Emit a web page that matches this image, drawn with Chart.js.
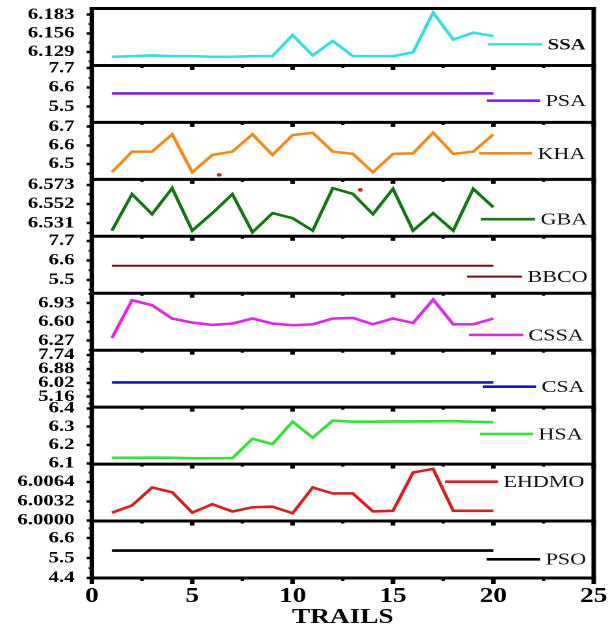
<!DOCTYPE html>
<html>
<head>
<meta charset="utf-8">
<script src="https://cdn.jsdelivr.net/npm/chart.js@4.4.1/dist/chart.umd.min.js"></script>
<style>
  html, body { margin: 0; padding: 0; background: #fff; }
  canvas { display: block; }
</style>
</head>
<body>
<!-- drawn narrow and shown wide: the reference figure is stretched sideways -->
<canvas id="chart" width="468" height="634" style="width:608px;height:634px"></canvas>
<script>
// trails on the x axis
const trails = [1, 2, 3, 4, 5, 6, 7, 8, 9, 10, 11, 12, 13, 14, 15, 16, 17, 18, 19, 20];
const xTicks = [0, 5, 10, 15, 20, 25];

// best values per trail, one array per algorithm
const ssa = [6.122, 6.123, 6.124, 6.123, 6.123, 6.122, 6.122, 6.123, 6.123, 6.1535, 6.124, 6.145, 6.123, 6.123, 6.123, 6.1286, 6.186, 6.147, 6.157, 6.152];
const psa = [6.26, 6.26, 6.26, 6.26, 6.26, 6.26, 6.26, 6.26, 6.26, 6.26, 6.26, 6.26, 6.26, 6.26, 6.26, 6.26, 6.26, 6.26, 6.26, 6.26];
const kha = [6.455, 6.566, 6.566, 6.659, 6.455, 6.548, 6.566, 6.659, 6.548, 6.655, 6.667, 6.566, 6.554, 6.455, 6.554, 6.557, 6.668, 6.554, 6.566, 6.659];
const gba = [6.5229, 6.5628, 6.5409, 6.5694, 6.5229, 6.542, 6.5628, 6.5211, 6.542, 6.5365, 6.5229, 6.5694, 6.5631, 6.5409, 6.5686, 6.5229, 6.542, 6.5229, 6.5686, 6.5485];
const bbco = [6.30, 6.30, 6.30, 6.30, 6.30, 6.30, 6.30, 6.30, 6.30, 6.30, 6.30, 6.30, 6.30, 6.30, 6.30, 6.30, 6.30, 6.30, 6.30, 6.30];
const cssa = [6.318, 6.983, 6.895, 6.66, 6.589, 6.547, 6.572, 6.66, 6.572, 6.542, 6.559, 6.66, 6.67, 6.559, 6.66, 6.582, 6.995, 6.559, 6.559, 6.66];
const csa = [6.04, 6.04, 6.04, 6.04, 6.04, 6.04, 6.04, 6.04, 6.04, 6.04, 6.04, 6.04, 6.04, 6.04, 6.04, 6.04, 6.04, 6.04, 6.04, 6.04];
const hsa = [6.130, 6.130, 6.131, 6.130, 6.128, 6.128, 6.129, 6.234, 6.205, 6.327, 6.240, 6.333, 6.327, 6.327, 6.328, 6.328, 6.329, 6.330, 6.326, 6.324];
const ehdmo = [6.0013, 6.0025, 6.0055, 6.0047, 6.0013, 6.0027, 6.0015, 6.0022, 6.0023, 6.0012, 6.0055, 6.0045, 6.0045, 6.0015, 6.0016, 6.0080, 6.0086, 6.0016, 6.0016, 6.0016];
const pso = [5.92, 5.92, 5.92, 5.92, 5.92, 5.92, 5.92, 5.92, 5.92, 5.92, 5.92, 5.92, 5.92, 5.92, 5.92, 5.92, 5.92, 5.92, 5.92, 5.92];

// stray red dots in the figure
const strayKha = [{x: 6.34, y: 6.441}];
const strayGba = [{x: 13.37, y: 6.5675}];

// y tick labels per panel
const ssaTicks = ['6.129', '6.156', '6.183'];
const psaTicks = ['5.5', '6.6', '7.7'];
const khaTicks = ['6.5', '6.6', '6.7'];
const gbaTicks = ['6.531', '6.552', '6.573'];
const bbcoTicks = ['5.5', '6.6', '7.7'];
const cssaTicks = ['6.27', '6.60', '6.93'];
const csaTicks = ['5.16', '6.02', '6.88', '7.74'];
const hsaTicks = ['6.1', '6.2', '6.3', '6.4'];
const ehdmoTicks = ['6.0000', '6.0032', '6.0064'];
const psoTicks = ['4.4', '5.5', '6.6'];

const serif = '"Liberation Serif", "Times New Roman", serif';
const AREA_LEFT = 70.7;

// panels from top to bottom; key = [x from, x to, height fraction] of the legend line
const panels = [
  {id: 'ySSA', name: 'SSA', values: ssa, ticks: ssaTicks, min: 6.1095, max: 6.192, color: '#33dfe3', key: [19.73, 22.43, 0.63], bold: true},
  {id: 'yPSA', name: 'PSA', values: psa, ticks: psaTicks, min: 4.6, max: 7.86, color: '#8a1ee6', key: [19.68, 22.33, 0.618]},
  {id: 'yKHA', name: 'KHA', values: kha, ticks: khaTicks, min: 6.417, max: 6.723, color: '#f28a1e', key: [19.29, 21.93, 0.543]},
  {id: 'yGBA', name: 'GBA', values: gba, ticks: gbaTicks, min: 6.5167, max: 6.579, color: '#137613', key: [19.37, 22.08, 0.70]},
  {id: 'yBBCO', name: 'BBCO', values: bbco, ticks: bbcoTicks, min: 4.75, max: 7.965, color: '#760c0c', key: [18.69, 21.43, 0.709], width: 2},
  {id: 'yCSSA', name: 'CSSA', values: cssa, ticks: cssaTicks, min: 6.102, max: 7.106, color: '#e427e4', key: [18.79, 21.48, 0.732]},
  {id: 'yCSA', name: 'CSA', values: csa, ticks: csaTicks, min: 4.51, max: 8.04, color: '#1414c8', key: [19.47, 22.13, 0.641]},
  {id: 'yHSA', name: 'HSA', values: hsa, ticks: hsaTicks, min: 6.096, max: 6.406, color: '#35e135', key: [19.34, 21.98, 0.471]},
  {id: 'yEHDMO', name: 'EHDMO', values: ehdmo, ticks: ehdmoTicks, min: 5.9999, max: 6.0094, color: '#dc1e1e', key: [17.59, 20.23, 0.309]},
  {id: 'yPSO', name: 'PSO', values: pso, ticks: psoTicks, min: 4.4, max: 7.55, color: '#000000', key: [19.67, 22.33, 0.671]}
];

const scales = {
  x: {
    type: 'linear', position: 'bottom', min: 0, max: 25,
    afterBuildTicks: s => { s.ticks = xTicks.map(v => ({value: v})); },
    afterFit: s => { s.height = 56; s.paddingLeft = 0; s.paddingRight = 0; },
    ticks: {color: '#000', font: {family: serif, size: 21, weight: 'bold'}, padding: 0, maxRotation: 0},
    grid: {drawOnChartArea: false, tickLength: 6, tickColor: 'rgba(0,0,0,0)'},
    border: {display: false},
    title: {display: true, text: 'TRAILS', color: '#000', font: {family: serif, size: 21, weight: 'bold'}, padding: {top: 0, bottom: 4}}
  }
};
panels.forEach((p, i) => {
  scales[p.id] = {
    type: 'linear', position: 'left', stack: 'trails', stackWeight: 1, weight: panels.length - i,
    min: p.min, max: p.max,
    afterBuildTicks: s => { s.ticks = p.ticks.map(t => ({value: parseFloat(t)})); },
    afterFit: s => { s.width = AREA_LEFT; s.paddingTop = 0; s.paddingBottom = 0; },
    ticks: {autoSkip: false, color: '#000', font: {family: serif, size: 16, weight: 'bold'}, padding: 9.3,
      callback: (v, idx) => p.ticks[idx]},
    grid: {drawOnChartArea: false, tickLength: 4, tickWidth: 2.5, tickColor: '#000'},
    border: {display: false}
  };
});

const datasets = panels.map(p => ({
  label: p.name,
  data: trails.map((t, i) => ({x: t, y: p.values[i]})),
  xAxisID: 'x', yAxisID: p.id,
  borderColor: p.color, borderWidth: p.width || 2.6,
  pointRadius: 0, tension: 0, fill: false
}));
datasets.push({label: 'dot', data: strayKha, xAxisID: 'x', yAxisID: 'yKHA', showLine: false,
  pointRadius: 1.8, pointBackgroundColor: '#e02020', pointBorderWidth: 0});
datasets.push({label: 'dot', data: strayGba, xAxisID: 'x', yAxisID: 'yGBA', showLine: false,
  pointRadius: 1.8, pointBackgroundColor: '#e02020', pointBorderWidth: 0});

// frame, panel separators, small ticks and the legend key in every panel
const panelFrame = {
  id: 'panelFrame',
  afterLayout(chart) {
    panels.forEach(p => {
      const s = chart.scales[p.id];
      s.left = 0;
      s.right = chart.chartArea.left;
      s.width = s.right;
    });
  },
  afterDraw(chart) {
    const ctx = chart.ctx;
    const area = chart.chartArea;
    const xs = chart.scales.x;
    ctx.save();
    ctx.strokeStyle = '#000';
    ctx.fillStyle = '#000';

    // minor ticks on the left spine
    ctx.lineWidth = 1.8;
    panels.forEach(p => {
      const s = chart.scales[p.id];
      const vals = p.ticks.map(Number);
      const step = vals[1] - vals[0];
      for (let v = vals[0] - step / 2; v <= p.max; v += step) {
        if (v < p.min) continue;
        const y = s.getPixelForValue(v);
        ctx.beginPath();
        ctx.moveTo(area.left - 2.5, y);
        ctx.lineTo(area.left, y);
        ctx.stroke();
      }
    });

    // marks under each separator and under the x axis
    const edges = panels.map(p => chart.scales[p.id].bottom);
    edges.forEach((yb, i) => {
      const last = i === edges.length - 1;
      for (let k = 0; k <= 10; k++) {
        const px = xs.getPixelForValue(k * 2.5);
        const major = k % 2 === 0;
        const w = major ? 3.5 : 2.6;
        const h = last ? (major ? 6 : 3) : (major ? 4.5 : 2.5);
        ctx.fillRect(px - w / 2, yb, w, h);
      }
    });

    ctx.lineWidth = 3;
    [area.top].concat(edges).forEach(y => {
      ctx.beginPath();
      ctx.moveTo(area.left - 1.75, y);
      ctx.lineTo(area.right + 1.75, y);
      ctx.stroke();
    });
    ctx.lineWidth = 3.5;
    [area.left, area.right].forEach(x => {
      ctx.beginPath();
      ctx.moveTo(x, area.top - 1.5);
      ctx.lineTo(x, area.bottom + 1.5);
      ctx.stroke();
    });

    // legend keys
    ctx.textAlign = 'left';
    ctx.textBaseline = 'middle';
    panels.forEach(p => {
      const s = chart.scales[p.id];
      const y = s.top + p.key[2] * s.height;
      const x1 = xs.getPixelForValue(p.key[0]);
      const x2 = xs.getPixelForValue(p.key[1]);
      ctx.strokeStyle = p.color;
      ctx.lineWidth = p.width || 2.6;
      ctx.beginPath();
      ctx.moveTo(x1, y);
      ctx.lineTo(x2, y);
      ctx.stroke();
      ctx.fillStyle = '#111';
      ctx.font = (p.bold ? 'bold 16px ' : '17px ') + serif;
      ctx.fillText(p.name, x2 + 4.2, y + 1);
    });
    ctx.restore();
  }
};

new Chart(document.getElementById('chart'), {
  type: 'line',
  data: {datasets: datasets},
  options: {
    responsive: false,
    devicePixelRatio: 2,
    animation: false,
    layout: {padding: {left: 0, right: 11, top: 8.5, bottom: 0}},
    plugins: {legend: {display: false}, tooltip: {enabled: false}},
    scales: scales
  },
  plugins: [panelFrame]
});
</script>
</body>
</html>
